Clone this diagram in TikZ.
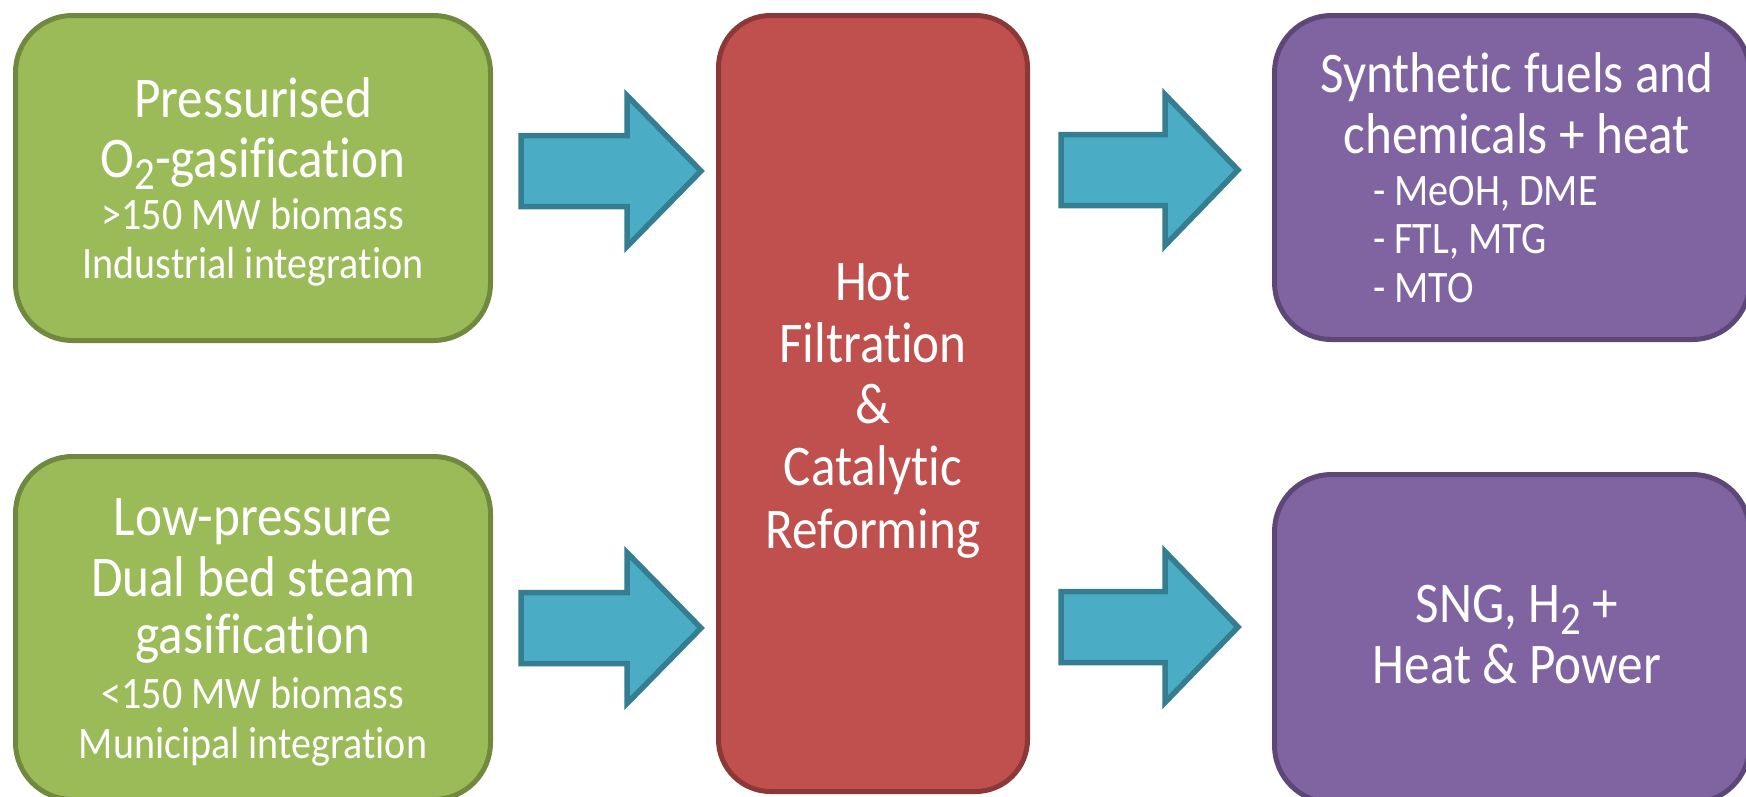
\documentclass[tikz,border=0pt]{standalone}
\usepackage{fontspec}
\setmainfont{Carlito}[FakeStretch=0.89, Ligatures={NoCommon,NoContextual,NoRare}, RawFeature={-liga;-clig;-dlig}]
\definecolor{gfill}{HTML}{9BBB59}
\definecolor{gline}{HTML}{71893F}
\definecolor{rfill}{HTML}{C0504D}
\definecolor{rline}{HTML}{8C3836}
\definecolor{pfill}{HTML}{8064A2}
\definecolor{pline}{HTML}{5C4776}
\definecolor{afill}{HTML}{4BACC6}
\definecolor{aline}{HTML}{357D91}
\newcommand\lowtwo{\raisebox{-12.5pt}{\fontsize{46}{46}\selectfont 2}}
\newcommand\nl{\kern0pt }
\newcommand\blockarrow[4]{% start x, centre y, head x, tip x
  \draw[barrow] (#1,#2-35.5) -- (#3,#2-35.5) -- (#3,#2-75.5) -- (#4,#2)
    -- (#3,#2+75.5) -- (#3,#2+35.5) -- (#1,#2+35.5) -- cycle;}
\begin{document}
\begin{tikzpicture}[x=1pt,y=-1pt,
  box/.style={draw, line width=5pt, rounded corners=57pt, inner sep=0pt},
  gbox/.style={box, fill=gfill, draw=gline, minimum width=475pt},
  rbox/.style={box, fill=rfill, draw=rline, rounded corners=52pt, minimum width=309pt},
  pbox/.style={box, fill=pfill, draw=pline, minimum width=475pt},
  barrow/.style={fill=afill, draw=aline, line width=5.5pt, line join=miter},
  big/.style={text=white, inner sep=0pt, font=\fontsize{57.5}{60}\selectfont},
  small/.style={text=white, inner sep=0pt, font=\fontsize{45}{48}\selectfont}]
\useasboundingbox (0,0) rectangle (1746,796);
\fill[white] (0,0) rectangle (1746,796);
% boxes
\node[gbox, minimum height=325pt] (g1) at (253,178) {};
\node[gbox, minimum height=343pt] (g2) at (253,628) {};
\node[rbox, minimum height=776pt] (r) at (873,403.5) {};
\node[pbox, minimum height=324pt] (p1) at (1512,177.5) {};
\node[pbox, minimum height=328pt] (p2) at (1512,638.5) {};
% arrows
\blockarrow{521}{171}{627}{701}
\blockarrow{521}{628}{627}{701}
\blockarrow{1061}{170}{1165}{1238}
\blockarrow{1061}{627}{1165}{1238}
% texts, top green
\node[big, anchor=base] (g1a) at (253,117) {Pressurised};
\node[big, anchor=base] (g1b) at (253,177) {O\lowtwo-gasif\nl icat\nl ion};
\node[small, anchor=base] (g1c) at (253,229) {>150 MW biomass};
\node[small, anchor=base] (g1d) at (253,278) {Industrial integrat\nl ion};
% bottom green
\node[big, anchor=base] (g2a) at (253,535) {Low-pressure};
\node[big, anchor=base] (g2b) at (253,596) {Dual bed steam};
\node[big, anchor=base] (g2c) at (253,653) {gasif\nl icat\nl ion};
\node[small, anchor=base] (g2d) at (253,708) {<150 MW biomass};
\node[small, anchor=base] (g2e) at (253,758) {Municipal integrat\nl ion};
% red
\node[big, anchor=base] (ra) at (873,300) {Hot};
\node[big, anchor=base] (rb) at (873,362) {Filtrat\nl ion};
\node[big, anchor=base] (rc) at (873,423) {\&};
\node[big, anchor=base] (rd) at (873,485) {Catalyt\nl ic};
\node[big, anchor=base] (re) at (873,548) {Reforming};
% top purple
\node[big, anchor=base] (p1a) at (1517,92) {Synthet\nl ic fuels and};
\node[big, anchor=base] (p1b) at (1517,153) {chemicals + heat};
\node[small, anchor=base west] (p1c) at (1373,205) {- MeOH, DME};
\node[small, anchor=base west] (p1d) at (1373,253) {- FTL, MTG};
\node[small, anchor=base west] (p1e) at (1373,302) {- MTO};
% bottom purple
\node[big, anchor=base] (p2a) at (1517,622) {SNG, H\lowtwo{} +};
\node[big, anchor=base] (p2b) at (1517,683) {Heat \& Power};
\end{tikzpicture}
\end{document}
